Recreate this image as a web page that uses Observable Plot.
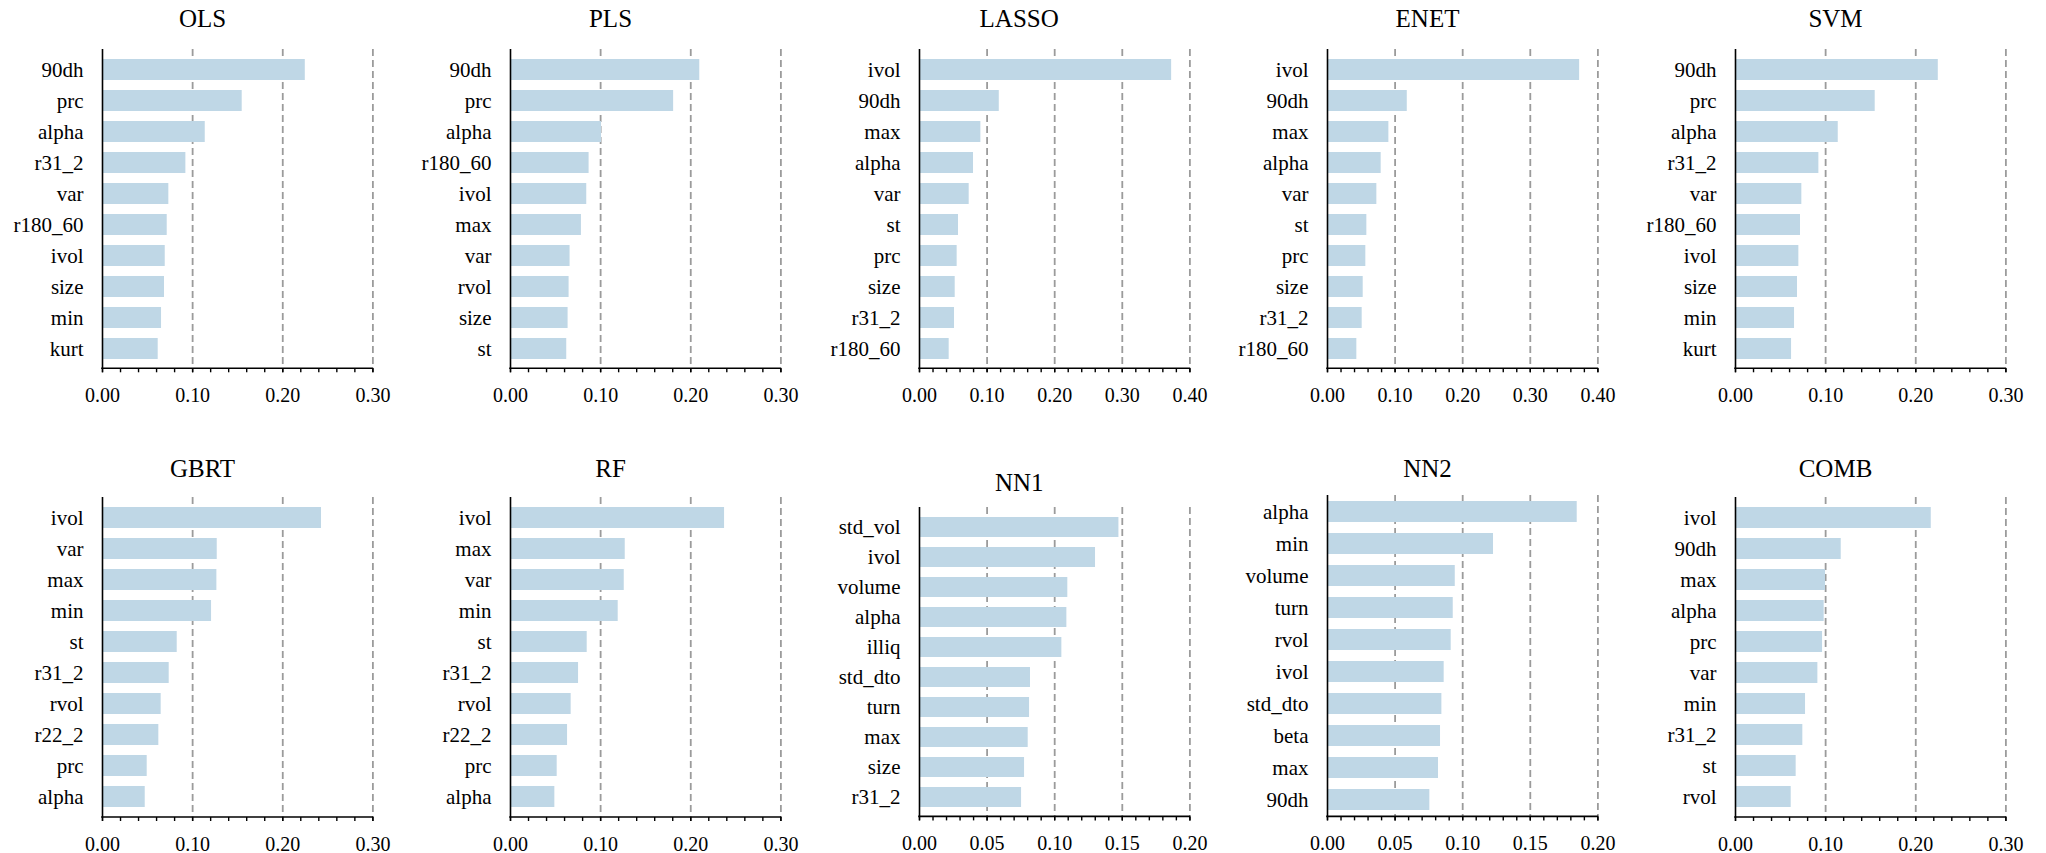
<!DOCTYPE html>
<html>
<head>
<meta charset="utf-8">
<script src="https://cdn.jsdelivr.net/npm/d3@7"></script>
<script src="https://cdn.jsdelivr.net/npm/@observablehq/plot@0.6"></script>
<style>
  body { margin: 0; background: #fff; }
  #chart { position: relative; width: 2046px; height: 853px; overflow: hidden;
           font-family: "Liberation Serif", "Times New Roman", serif; color: #000; }
  .panel { position: absolute; }
  .panel, .panel text { font-family: "Liberation Serif", "Times New Roman", serif; }
  .title { position: absolute; width: 300px; text-align: center; font-size: 25px;
           line-height: 1; white-space: nowrap; }
</style>
</head>
<body>
<div id="chart"></div>
<script>
// Top-10 feature importances for each model
const models = ["OLS", "PLS", "LASSO", "ENET", "SVM", "GBRT", "RF", "NN1", "NN2", "COMB"];

const olsFeatures = ["90dh", "prc", "alpha", "r31_2", "var", "r180_60", "ivol", "size", "min", "kurt"];
const olsValues   = [0.225, 0.155, 0.114, 0.0925, 0.0736, 0.0718, 0.0696, 0.0688, 0.0655, 0.0618];

const plsFeatures = ["90dh", "prc", "alpha", "r180_60", "ivol", "max", "var", "rvol", "size", "st"];
const plsValues   = [0.210, 0.181, 0.101, 0.0872, 0.0846, 0.0787, 0.0661, 0.065, 0.0639, 0.0624];

const lassoFeatures = ["ivol", "90dh", "max", "alpha", "var", "st", "prc", "size", "r31_2", "r180_60"];
const lassoValues   = [0.373, 0.118, 0.0908, 0.0799, 0.0735, 0.0577, 0.0557, 0.0528, 0.0518, 0.0439];

const enetFeatures = ["ivol", "90dh", "max", "alpha", "var", "st", "prc", "size", "r31_2", "r180_60"];
const enetValues   = [0.373, 0.118, 0.0908, 0.0794, 0.073, 0.0582, 0.0567, 0.0528, 0.0513, 0.0434];

const svmFeatures = ["90dh", "prc", "alpha", "r31_2", "var", "r180_60", "ivol", "size", "min", "kurt"];
const svmValues   = [0.225, 0.155, 0.114, 0.0925, 0.0736, 0.0721, 0.0703, 0.0688, 0.0655, 0.0622];

const gbrtFeatures = ["ivol", "var", "max", "min", "st", "r31_2", "rvol", "r22_2", "prc", "alpha"];
const gbrtValues   = [0.243, 0.1273, 0.1269, 0.121, 0.0829, 0.074, 0.0651, 0.0625, 0.0496, 0.0474];

const rfFeatures = ["ivol", "max", "var", "min", "st", "r31_2", "rvol", "r22_2", "prc", "alpha"];
const rfValues   = [0.2375, 0.1273, 0.1262, 0.1195, 0.0851, 0.0755, 0.0673, 0.0633, 0.0518, 0.0492];

const nn1Features = ["std_vol", "ivol", "volume", "alpha", "illiq", "std_dto", "turn", "max", "size", "r31_2"];
const nn1Values   = [0.1475, 0.1302, 0.1097, 0.109, 0.1053, 0.0821, 0.0814, 0.0804, 0.0777, 0.0755];

const nn2Features = ["alpha", "min", "volume", "turn", "rvol", "ivol", "std_dto", "beta", "max", "90dh"];
const nn2Values   = [0.1847, 0.1228, 0.0945, 0.093, 0.0915, 0.0863, 0.0846, 0.0836, 0.0821, 0.0757];

const combFeatures = ["ivol", "90dh", "max", "alpha", "prc", "var", "min", "r31_2", "st", "rvol"];
const combValues   = [0.2172, 0.1173, 0.0999, 0.0984, 0.0966, 0.0914, 0.0777, 0.0747, 0.0673, 0.0618];

// x-axis extent and major tick step per model
const axisMax  = [0.30, 0.30, 0.40, 0.40, 0.30, 0.30, 0.30, 0.20, 0.20, 0.30];
const axisStep = [0.10, 0.10, 0.10, 0.10, 0.10, 0.10, 0.10, 0.05, 0.05, 0.10];

const featureLists = [olsFeatures, plsFeatures, lassoFeatures, enetFeatures, svmFeatures,
                      gbrtFeatures, rfFeatures, nn1Features, nn2Features, combFeatures];
const valueLists = [olsValues, plsValues, lassoValues, enetValues, svmValues,
                    gbrtValues, rfValues, nn1Values, nn2Values, combValues];

// panel geometry: left edge of the value axis per column, frame top/height and title baseline per panel
const colZero = [102.3, 510.3, 919, 1327.3, 1735.3];
const frameW = 270.4;
const frameTop = [49, 49, 49, 49, 49, 496.7, 496.7, 507.3, 495.3, 496.7];
const frameH   = [319.3, 319.3, 319.3, 319.3, 319.3, 320, 320, 309.4, 321.4, 320];
const titleBase = [27, 27, 27, 27, 27, 477, 477, 491, 477, 477];

const chart = document.getElementById("chart");
const serif = '"Liberation Serif", "Times New Roman", serif';

// solid baseline along the bottom of the frame
function baseline(xmax) {
  return (index, scales, values, dims) => {
    const line = document.createElementNS("http://www.w3.org/2000/svg", "line");
    const y = dims.height - dims.marginBottom;
    line.setAttribute("x1", scales.x(0) - 0.8);
    line.setAttribute("x2", scales.x(xmax) + 0.8);
    line.setAttribute("y1", y);
    line.setAttribute("y2", y);
    line.setAttribute("stroke", "#000");
    line.setAttribute("stroke-width", 1.6);
    return line;
  };
}

models.forEach((name, i) => {
  const col = i % 5;
  const mL = 110, mR = 30, mT = 10, mB = 36;
  const xmax = axisMax[i], step = axisStep[i];
  const data = featureLists[i].map((f, k) => ({feature: f, value: valueLists[i][k]}));
  const major = d3.range(0, Math.round(xmax / step) + 1).map(k => +(k * step).toFixed(4));
  const minor = d3.range(0, Math.round(xmax / step) * 5 + 1).map(k => +(k * step / 5).toFixed(5));

  const svg = Plot.plot({
    width: mL + frameW + mR,
    height: mT + frameH[i] + mB,
    marginLeft: mL, marginRight: mR, marginTop: mT, marginBottom: mB,
    style: `font-family: ${serif}; font-size: 21px; color: #000; background: transparent; overflow: visible;`,
    x: {domain: [0, xmax], label: null},
    y: {domain: featureLists[i], paddingInner: 0.33, paddingOuter: 0.17, label: null},
    marks: [
      Plot.ruleX(major.slice(1), {stroke: "#9b9b9b", strokeWidth: 1.8, strokeDasharray: "7,4"}),
      Plot.barX(data, {x: "value", y: "feature", fill: "#bfd7e6"}),
      Plot.ruleX([0], {stroke: "#000", strokeWidth: 1.6}),
      baseline(xmax),
      Plot.axisX(minor, {tickSize: 4, tickFormat: () => "", stroke: "#000", strokeWidth: 1.4}),
      Plot.axisX(major, {tickSize: 4, tickPadding: 15, tickFormat: d3.format(".2f"),
                         fontSize: 20, stroke: "#000", strokeWidth: 1.4, fill: "#000"}),
      Plot.axisY({tickSize: 0, tickPadding: 19, fontSize: 21, fill: "#000"})
    ]
  });
  svg.setAttribute("font-family", serif);
  svg.classList.add("panel");
  svg.style.position = "absolute";
  svg.style.left = (colZero[col] - mL) + "px";
  svg.style.top = (frameTop[i] - mT) + "px";
  chart.appendChild(svg);

  const title = document.createElement("div");
  title.className = "title";
  title.textContent = name;
  title.style.left = (colZero[col] + frameW / 2 - 35 - 150) + "px";
  title.style.top = (titleBase[i] - 21) + "px";
  chart.appendChild(title);
});
</script>
</body>
</html>
